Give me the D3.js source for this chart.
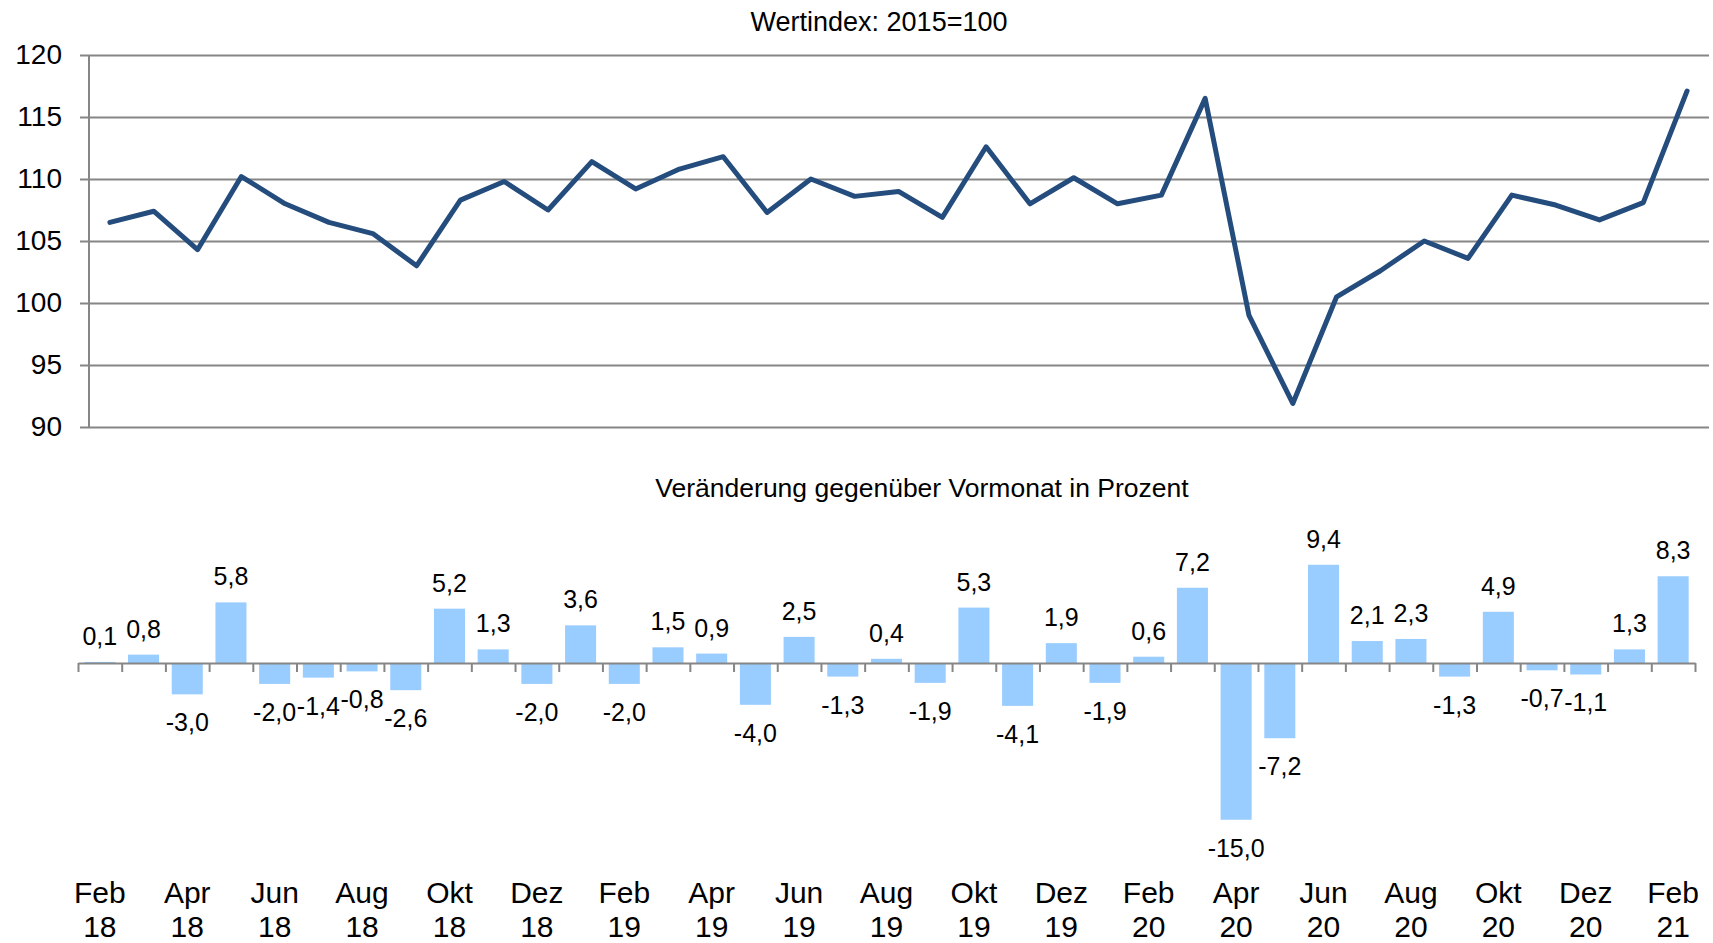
<!DOCTYPE html>
<html lang="de">
<head>
    <meta charset="utf-8" />
    <title>Wertindex und Veränderung gegenüber Vormonat</title>
    <script src="https://d3js.org/d3.v7.min.js"></script>
    <style>
        body { margin: 0; background: #fff; }
        svg text { font-family: "Liberation Sans", Arial, sans-serif; fill: #000; }
    </style>
</head>
<body>
    <script>
        // Monate Feb 18 .. Feb 21
        const months = ["Feb","Mär","Apr","Mai","Jun","Jul","Aug","Sep","Okt","Nov","Dez","Jan",
                        "Feb","Mär","Apr","Mai","Jun","Jul","Aug","Sep","Okt","Nov","Dez","Jan",
                        "Feb","Mär","Apr","Mai","Jun","Jul","Aug","Sep","Okt","Nov","Dez","Jan","Feb"];
        const years = ["18","18","18","18","18","18","18","18","18","18","18","19",
                       "19","19","19","19","19","19","19","19","19","19","19","20",
                       "20","20","20","20","20","20","20","20","20","20","20","21","21"];
        // Wertindex 2015=100
        const indexValues = [106.5, 107.4, 104.3, 110.2, 108.0, 106.5, 105.6, 103.0, 108.3, 109.8, 107.5, 111.4,
                             109.2, 110.8, 111.8, 107.3, 110.0, 108.6, 109.0, 106.9, 112.6, 108.0, 110.1, 108.0,
                             108.7, 116.5, 99.0, 91.9, 100.5, 102.6, 105.0, 103.6, 108.7, 107.9, 106.7, 108.1, 117.1];
        // Veränderung gegenüber Vormonat in Prozent
        const changeValues = [0.1, 0.8, -3.0, 5.8, -2.0, -1.4, -0.8, -2.6, 5.2, 1.3, -2.0, 3.6,
                              -2.0, 1.5, 0.9, -4.0, 2.5, -1.3, 0.4, -1.9, 5.3, -4.1, 1.9, -1.9,
                              0.6, 7.2, -15.0, -7.2, 9.4, 2.1, 2.3, -1.3, 4.9, -0.7, -1.1, 1.3, 8.3];
        const yTicks = [90, 95, 100, 105, 110, 115, 120];

        const width = 1713, height = 943;
        const gridColor = "#868686";
        const de = d3.formatLocale({ decimal: ",", thousands: ".", grouping: [3], currency: ["", " €"], minus: "-" });
        const fmt = de.format(".1f");

        const svg = d3.select("body").append("svg")
            .attr("width", width)
            .attr("height", height);

        const keys = d3.range(months.length);

        // ---------- oberer Teil: Linie ----------
        const xTop = d3.scaleBand().domain(keys).range([88, 1709]);
        const yTop = d3.scaleLinear().domain([90, 120]).range([427, 55]);

        svg.append("text")
            .attr("x", 879)
            .attr("y", 31)
            .attr("text-anchor", "middle")
            .style("font-size", "27px")
            .text("Wertindex: 2015=100");

        const yAxis = d3.axisLeft(yTop)
            .tickValues(yTicks)
            .tickSize(-(1709 - 80))
            .tickPadding(18)
            .tickFormat(d3.format("d"));
        const gy = svg.append("g")
            .attr("transform", "translate(80,0)")
            .call(yAxis);
        gy.select(".domain").remove();
        gy.selectAll(".tick line").attr("stroke", gridColor).attr("stroke-width", 2);
        gy.selectAll(".tick text").style("font-size", "28px").attr("fill", "#000");

        svg.append("line")
            .attr("x1", 89).attr("x2", 89)
            .attr("y1", yTop(120)).attr("y2", yTop(90))
            .attr("stroke", gridColor).attr("stroke-width", 2);

        const line = d3.line()
            .x((d, i) => xTop(i) + xTop.bandwidth() / 2)
            .y(d => yTop(d));
        svg.append("path")
            .datum(indexValues)
            .attr("d", line)
            .attr("fill", "none")
            .attr("stroke", "#244c7c")
            .attr("stroke-width", 5)
            .attr("stroke-linejoin", "round")
            .attr("stroke-linecap", "round");

        // ---------- unterer Teil: Balken ----------
        const xBot = d3.scaleBand().domain(keys).range([78, 1695]).paddingInner(0.29).paddingOuter(0.145);
        const yBot = d3.scaleLinear().domain([-16, 10]).range([663 + 16 * 10.45, 663 - 10 * 10.45]);

        svg.append("text")
            .attr("x", 922)
            .attr("y", 497)
            .attr("text-anchor", "middle")
            .style("font-size", "26.5px")
            .text("Veränderung gegenüber Vormonat in Prozent");

        svg.selectAll("rect.bar")
            .data(changeValues)
            .enter()
            .append("rect")
            .attr("class", "bar")
            .attr("x", (d, i) => xBot(i))
            .attr("width", xBot.bandwidth())
            .attr("y", d => yBot(Math.max(0, d)))
            .attr("height", d => Math.abs(yBot(d) - yBot(0)))
            .attr("fill", "#99ccff");

        svg.selectAll("text.val")
            .data(changeValues)
            .enter()
            .append("text")
            .attr("class", "val")
            .attr("x", (d, i) => xBot(i) + xBot.bandwidth() / 2)
            .attr("y", d => d >= 0 ? yBot(d) - 17 : yBot(d) + 37)
            .attr("text-anchor", "middle")
            .style("font-size", "25px")
            .text(d => fmt(d));

        // Nulllinie mit Teilstrichen
        const xAxis = d3.axisBottom(d3.scaleLinear().domain([0, months.length]).range([78, 1695]))
            .tickValues(d3.range(months.length + 1))
            .tickSize(9)
            .tickSizeOuter(0)
            .tickFormat("");
        const gx = svg.append("g")
            .attr("transform", "translate(0," + yBot(0) + ")")
            .call(xAxis);
        gx.selectAll("path, line").attr("stroke", gridColor).attr("stroke-width", 2);

        // Monatsbeschriftung (jeder zweite Monat)
        const labels = svg.append("g").selectAll("text")
            .data(keys.filter(i => i % 2 === 0))
            .enter()
            .append("text")
            .attr("text-anchor", "middle")
            .attr("x", i => xBot(i) + xBot.bandwidth() / 2)
            .attr("y", 903)
            .style("font-size", "30px");
        labels.append("tspan").text(i => months[i]);
        labels.append("tspan")
            .attr("x", i => xBot(i) + xBot.bandwidth() / 2)
            .attr("dy", 34)
            .text(i => years[i]);
    </script>
</body>
</html>
